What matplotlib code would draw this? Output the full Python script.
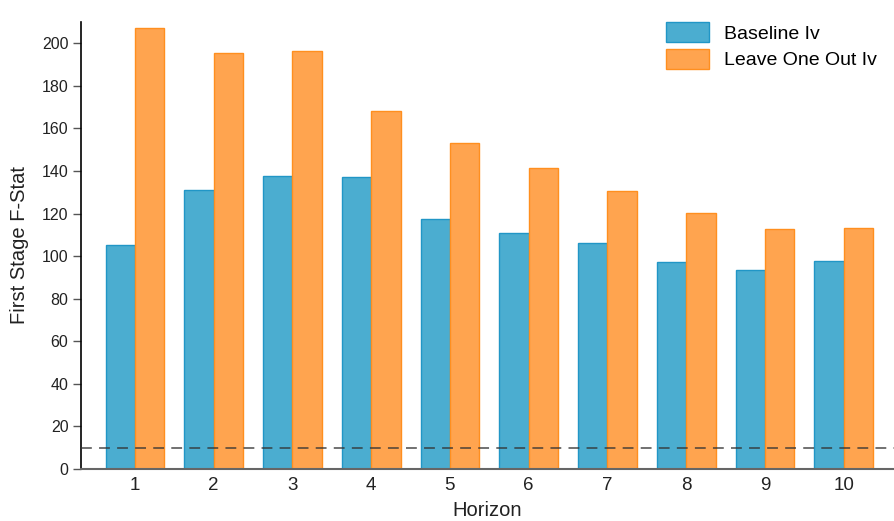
import matplotlib
matplotlib.use("Agg")
import matplotlib.pyplot as plt
import numpy as np

plt.rcParams['font.family'] = ['Liberation Sans', 'DejaVu Sans']

# Data
horizons = [1, 2, 3, 4, 5, 6, 7, 8, 9, 10]
baseline_iv = [105.2, 131.1, 137.7, 137.2, 117.5, 110.9, 106.2, 97.3, 93.6, 97.5]
leave_one_out_iv = [207.4, 195.2, 196.6, 168.4, 153.2, 141.5, 130.7, 120.3, 112.8, 113.3]
threshold = 10

fig = plt.figure(figsize=(8.94, 5.21), dpi=100)
ax = fig.add_axes([0.0906, 0.0998, 0.9094, 0.858])

x = np.array(horizons)
w = 0.373
ax.bar(x - w / 2, baseline_iv, width=w, color='#4badd0', edgecolor='#2196c6',
       linewidth=1.0, label='Baseline Iv', zorder=2)
ax.bar(x + w / 2, leave_one_out_iv, width=w, color='#ffa44f', edgecolor='#ff8f1f',
       linewidth=1.0, label='Leave One Out Iv', zorder=2)

ax.axhline(threshold, color='#333333', alpha=0.75, linestyle=(0, (6, 4)),
           linewidth=1.3, zorder=3)

ax.set_xlim(0.314, 10.64)
ax.set_ylim(0, 210)
ax.set_xticks(horizons)
ax.set_yticks(np.arange(0, 201, 20))

ax.spines['top'].set_visible(False)
ax.spines['right'].set_visible(False)
ax.spines['left'].set_color('black')
ax.spines['left'].set_linewidth(1.2)
ax.spines['bottom'].set_color('#666666')
ax.spines['bottom'].set_linewidth(1.5)

ax.tick_params(axis='x', length=0, labelsize=13.5, pad=6, colors='#222222')
ax.tick_params(axis='y', length=6, width=1.0, labelsize=11.5, pad=3,
               colors='#555555', labelcolor='#222222')

ax.set_xlabel('Horizon', fontsize=14.5, color='#222222', labelpad=5)
ax.set_ylabel('First Stage F-Stat', fontsize=14.5, color='#222222', labelpad=9)

ax.legend(loc='upper right', bbox_to_anchor=(1.0, 1.038), frameon=False,
          fontsize=14, handlelength=2.2, handleheight=1.2, labelspacing=0.3,
          handletextpad=0.75)

fig.savefig('out.png', dpi=100)
